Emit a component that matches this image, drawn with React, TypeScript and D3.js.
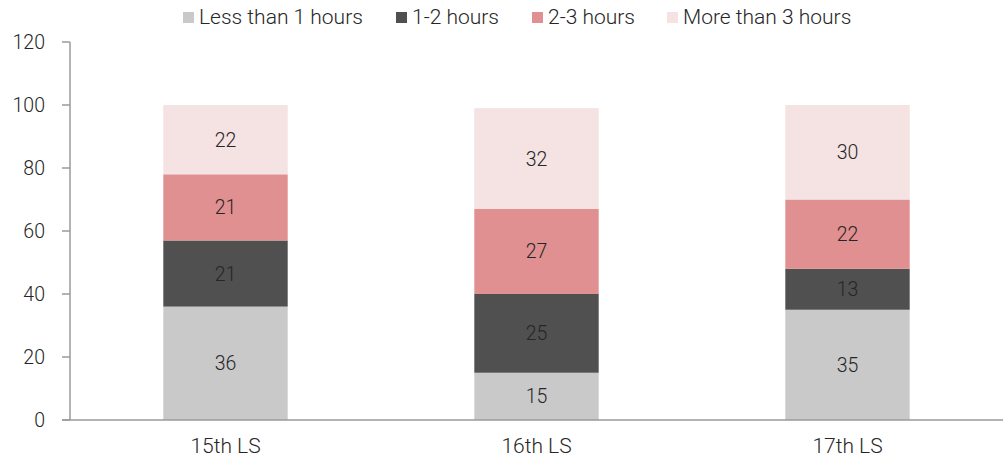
import React from "react";
import * as d3 from "d3";

const categories = ["15th LS", "16th LS", "17th LS"];
const seriesNames = ["Less than 1 hours", "1-2 hours", "2-3 hours", "More than 3 hours"];
const lessThan1 = [36, 15, 35];
const oneToTwo = [21, 25, 13];
const twoToThree = [21, 27, 22];
const moreThan3 = [22, 32, 30];
const yTicks = [0, 20, 40, 60, 80, 100, 120];
const colors = ["#c9c9c9", "#505050", "#e09090", "#f5e2e2"];

const W = 1003;
const H = 461;
const margin = { left: 70, right: 0, top: 42, bottom: 41 };
const FONT = "Roboto, 'Noto Sans', sans-serif";
const TEXT = "#262626";
const AXIS = "#9a9a9a";

export default function App() {
  const values = [lessThan1, oneToTwo, twoToThree, moreThan3];
  const rows = categories.map((c, i) => {
    const r: Record<string, number | string> = { cat: c };
    seriesNames.forEach((s, k) => (r[s] = values[k][i]));
    return r;
  });
  const stacked = d3.stack<any>().keys(seriesNames)(rows as any);

  const x = d3
    .scaleBand<string>()
    .domain(categories)
    .range([margin.left, W - margin.right])
    .paddingInner(0.6)
    .paddingOuter(0.3);
  const y = d3.scaleLinear().domain([0, 120]).range([H - margin.bottom, margin.top]);

  // legend layout
  const legendX = [183, 396, 532, 667];

  return (
    <svg
      width={W}
      height={H}
      style={{ position: "absolute", left: 0, top: 0, background: "#fff" }}
      fontFamily={FONT}
      fontWeight={300}
    >
      {/* stacked bars */}
      {stacked.map((layer, k) => (
        <g key={layer.key}>
          {layer.map((d, i) => {
            const x0 = x(categories[i])!;
            const yTop = y(d[1]);
            const yBot = y(d[0]);
            return (
              <g key={i}>
                <rect x={x0} y={yTop} width={x.bandwidth()} height={yBot - yTop} fill={colors[k]} />
                <text
                  x={x0 + x.bandwidth() / 2}
                  y={(yTop + yBot) / 2}
                  dy="0.36em"
                  textAnchor="middle"
                  fontSize={19.5}
                  fill={TEXT}
                >
                  {d[1] - d[0]}
                </text>
              </g>
            );
          })}
        </g>
      ))}

      {/* y axis */}
      <line x1={margin.left} x2={margin.left} y1={y(120)} y2={y(0)} stroke={AXIS} strokeWidth={1.5} />
      {yTicks.map((t) => (
        <g key={t}>
          <line x1={margin.left - 8} x2={margin.left} y1={y(t)} y2={y(t)} stroke={AXIS} strokeWidth={1.5} />
          <text x={45} y={y(t)} dy="0.36em" textAnchor="end" fontSize={19.5} fill={TEXT}>
            {t}
          </text>
        </g>
      ))}

      {/* x axis */}
      <line x1={margin.left - 8} x2={W} y1={y(0)} y2={y(0)} stroke={AXIS} strokeWidth={1.5} />
      {categories.map((c) => (
        <text
          key={c}
          x={x(c)! + x.bandwidth() / 2}
          y={453}
          textAnchor="middle"
          fontSize={21}
          fill={TEXT}
        >
          {c}
        </text>
      ))}

      {/* legend */}
      {seriesNames.map((s, k) => (
        <g key={s}>
          <rect x={legendX[k]} y={12} width={11} height={11} fill={colors[k]} />
          <text x={legendX[k] + 16} y={24} fontSize={21} fill={TEXT}>
            {s}
          </text>
        </g>
      ))}
    </svg>
  );
}
